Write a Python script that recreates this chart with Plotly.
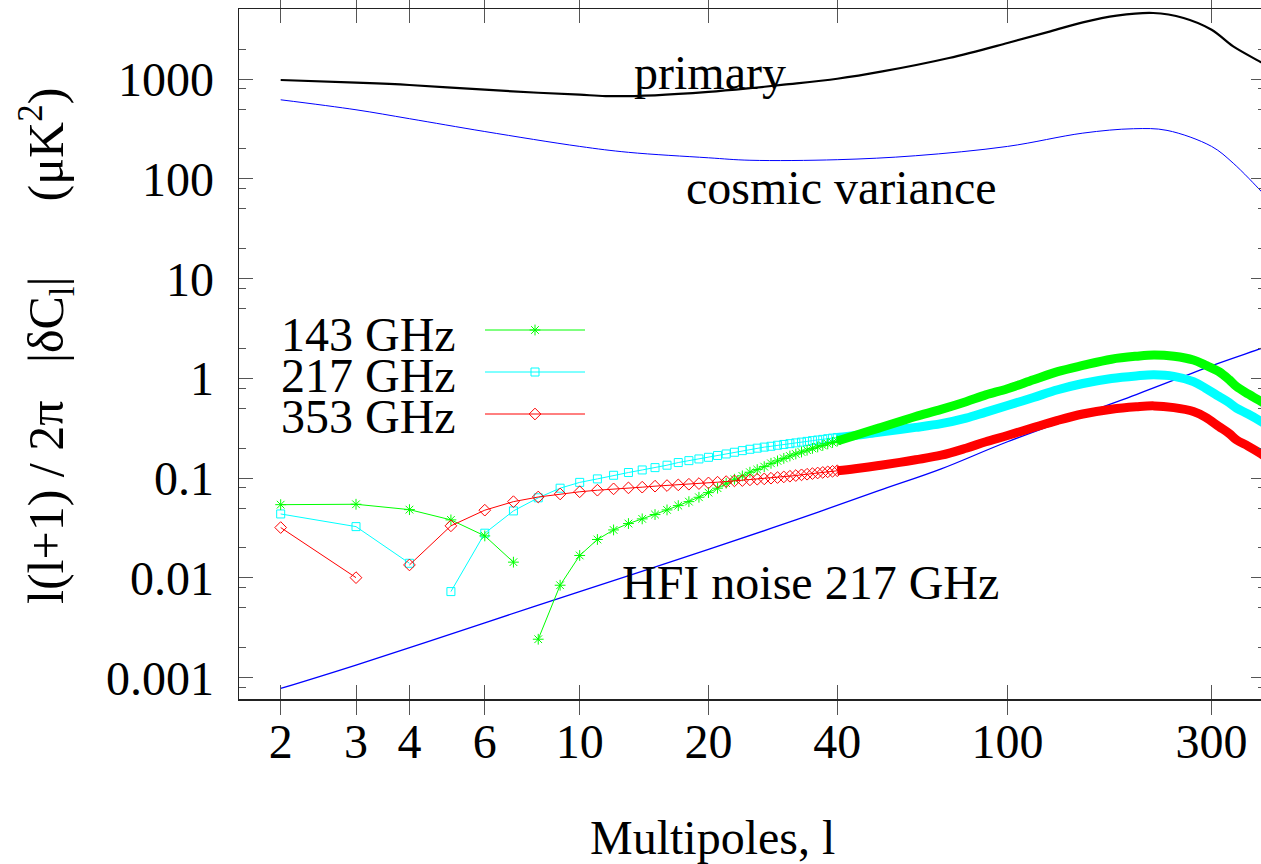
import plotly.graph_objects as go

# ---------------- data ----------------
# primary CMB spectrum  l(l+1)/2pi C_l  [muK^2]
L_PRIMARY = [2, 3, 4, 6, 8, 10, 11.5, 15, 20, 25, 30, 40, 51, 73, 100, 126, 150, 180, 219, 258, 300, 337, 392, 400]
V_PRIMARY = [982, 923, 875, 785, 732, 700, 678, 690, 745, 812, 881, 1011, 1197, 1632, 2306, 3020, 3715, 4335, 4613, 4111, 3133, 2132, 1474, 1398]

# cosmic variance
L_COSMIC = [2, 3, 4, 6, 10, 13, 20, 25, 40, 61, 100, 150, 197, 236, 300, 337, 392, 400]
V_COSMIC = [622, 494, 402, 299, 212, 185, 163, 154, 156, 171, 212, 288, 319, 307, 212, 144, 75, 68]

# HFI noise 217 GHz
L_NOISE = [2, 3, 6, 10, 20, 32, 50, 70, 100, 200, 300, 392, 400]
V_NOISE = [0.00078, 0.00134, 0.00355, 0.0073, 0.0193, 0.0382, 0.075, 0.124, 0.232, 0.69, 1.34, 2.0, 2.07]

# residuals, individual multipoles (None = break in the curve)
L_143 = [2, 3, 4, 5, 6, 7, None] + list(range(8, 41))
V_143 = [0.0543, 0.0548, 0.0484, 0.0382, 0.0264, 0.0144, None,
         0.00243, 0.00845, 0.0168, 0.0243, 0.0303, 0.0351, 0.0391, 0.0432, 0.0481, 0.0531,
         0.0582, 0.0644, 0.0717, 0.0794, 0.0891, 0.0977, 0.1055, 0.1148, 0.122, 0.1306,
         0.141, 0.149, 0.158, 0.167, 0.175, 0.183, 0.191, 0.199, 0.206, 0.213, 0.221, 0.228, 0.236]

L_217 = [2, 3, 4, None] + list(range(5, 41))
V_217 = [0.0438, 0.0327, 0.01403, None,
         0.0073, 0.0281, 0.047, 0.0636, 0.0794, 0.0908, 0.0984, 0.107, 0.114, 0.121,
         0.1277, 0.135, 0.1435, 0.150, 0.156, 0.162, 0.169, 0.175, 0.182, 0.189,
         0.195, 0.200, 0.205, 0.209, 0.214, 0.218, 0.222, 0.226, 0.230, 0.234,
         0.238, 0.2415, 0.245, 0.249, 0.2525, 0.256]

L_353 = [2, 3, None] + list(range(4, 41))
V_353 = [0.032, 0.01007, None,
         0.0135, 0.0333, 0.0478, 0.0582, 0.0648, 0.0695, 0.0731, 0.0758, 0.0782, 0.080,
         0.0813, 0.0832, 0.0844, 0.0857, 0.087, 0.0883, 0.0897, 0.0912, 0.0925, 0.094,
         0.0947, 0.0962, 0.0977, 0.0984, 0.100, 0.1015, 0.103, 0.1047, 0.1063, 0.1081,
         0.1096, 0.1112, 0.1128, 0.1143, 0.1158, 0.1172, 0.1187]

# high-l part where the markers merge into a continuous band
L_BAND = [40, 44, 50, 56, 61, 70, 80, 89, 100, 115, 131, 150, 175, 200, 220, 245, 272, 290, 312, 330, 343, 365, 392, 400]
V_BAND_143 = [0.236, 0.268, 0.318, 0.37, 0.415, 0.49, 0.585, 0.684, 0.79, 0.97, 1.17, 1.35, 1.56, 1.67, 1.72, 1.67, 1.53, 1.36, 1.17, 0.97, 0.83, 0.70, 0.586, 0.555]
V_BAND_217 = [0.256, 0.268, 0.289, 0.308, 0.323, 0.352, 0.40, 0.46, 0.535, 0.645, 0.77, 0.89, 1.0, 1.06, 1.087, 1.05, 0.93, 0.80, 0.66, 0.57, 0.504, 0.44, 0.37, 0.35]
V_BAND_353 = [0.1187, 0.1245, 0.134, 0.144, 0.153, 0.170, 0.20, 0.232, 0.268, 0.322, 0.38, 0.44, 0.492, 0.52, 0.531, 0.51, 0.466, 0.41, 0.33, 0.28, 0.242, 0.21, 0.175, 0.165]

SERIES_NAMES = ["143 GHz", "217 GHz", "353 GHz"]

X_TICKS = [2, 3, 4, 6, 10, 20, 40, 100, 300]
X_TICK_TEXT = ["2", "3", "4", "6", "10", "20", "40", "100", "300"]
Y_TICKS = [0.001, 0.01, 0.1, 1, 10, 100, 1000]
Y_TICK_TEXT = ["0.001", "0.01", "0.1", "1", "10", "100", "1000"]
Y_MINOR = [m * 10.0 ** e for e in range(-4, 4) for m in (2, 5, 8)]

# ---------------- layout constants ----------------
W, H = 1261, 864
PL, PR, PT, PB = 239, 1261, 9, 699
XRANGE = [0.2036, 2.5926]
YRANGE = [-3.2136, 3.704]
FONT = "Liberation Serif, Times New Roman, serif"
FS = 48

GREEN, CYAN, RED, BLUE = "#00ff00", "#00ffff", "#ff0000", "#0000ff"


def px(x):
    return (x - PL) / (PR - PL)


def py(y):
    return (PB - y) / (PB - PT)


fig = go.Figure()

fig.add_trace(go.Scatter(x=L_NOISE, y=V_NOISE, mode="lines", line=dict(color=BLUE, width=1.3, shape="spline"),
                         showlegend=False))
fig.add_trace(go.Scatter(x=L_COSMIC, y=V_COSMIC, mode="lines", line=dict(color=BLUE, width=1, shape="spline"),
                         showlegend=False))

specs = {
    "143 GHz": (L_143, V_143, V_BAND_143, GREEN, "asterisk-open", 9, 1),
    "217 GHz": (L_217, V_217, V_BAND_217, CYAN, "square-open", 8, 2),
    "353 GHz": (L_353, V_353, V_BAND_353, RED, "diamond-open", 9, 3),
}
# drawing order: 217 underneath, then 143, then 353 on top
for name in ["217 GHz", "143 GHz", "353 GHz"]:
    lx, vy, vb, col, sym, ms, rank = specs[name]
    fig.add_trace(go.Scatter(x=L_BAND, y=vb, mode="lines", line=dict(color=col, width=9, shape="spline"),
                             showlegend=False))
    fig.add_trace(go.Scatter(x=lx, y=vy, mode="lines+markers", name=" ", legendrank=rank,
                             line=dict(color=col, width=1),
                             marker=dict(symbol=sym, size=ms, color=col, line=dict(color=col, width=1)),
                             connectgaps=False, showlegend=True))

fig.add_trace(go.Scatter(x=L_PRIMARY, y=V_PRIMARY, mode="lines", line=dict(color="black", width=2.2, shape="spline"),
                         showlegend=False, yaxis="y2"))

axis_common = dict(showgrid=False, zeroline=False, ticks="inside", tickcolor="#555", tickwidth=1,
                   tickfont=dict(family=FONT, size=FS, color="black"))

fig.update_layout(
    width=W, height=H,
    margin=dict(l=PL, r=W - PR, t=PT, b=H - PB, pad=0),
    paper_bgcolor="white", plot_bgcolor="white",
    font=dict(family=FONT, size=FS, color="black"),
    hovermode=False,
    xaxis=dict(type="log", range=XRANGE, tickvals=X_TICKS, ticktext=X_TICK_TEXT, ticklen=14,
               showline=True, linecolor="#222", linewidth=1.5, mirror="allticks",
               ticklabelstandoff=0, **axis_common),
    yaxis=dict(type="log", range=YRANGE, tickvals=Y_TICKS, ticktext=Y_TICK_TEXT, ticklen=14,
               showline=True, linecolor="#222", linewidth=1.5, mirror=False,
               ticklabelstandoff=14,
               minor=dict(tickvals=Y_MINOR, ticklen=7, ticks="inside", tickcolor="#555", showgrid=False),
               **axis_common),
    yaxis2=dict(type="log", range=YRANGE, overlaying="y", side="right", tickvals=Y_TICKS, ticklen=10,
                showticklabels=False, showline=False, showgrid=False, zeroline=False, ticks="inside",
                tickcolor="#555", tickwidth=1,
                minor=dict(tickvals=Y_MINOR, ticklen=3, ticks="inside", tickcolor="#555", showgrid=False)),
    legend=dict(x=px(480), y=py(304), xanchor="left", yanchor="top", bgcolor="rgba(0,0,0,0)",
                font=dict(family=FONT, size=30), itemwidth=100, tracegroupgap=0, traceorder="normal"),
    showlegend=True,
)

ann = []


def text(t, x, y, xanchor="left", angle=0, size=FS):
    ann.append(dict(text=t, x=px(x), y=py(y), xref="paper", yref="paper", xanchor=xanchor, yanchor="middle",
                    showarrow=False, textangle=angle, font=dict(family=FONT, size=size, color="black")))


text("primary", 632, 73)
text("cosmic variance", 684, 187)
text("HFI noise 217 GHz", 620, 582)
for name, base in zip(SERIES_NAMES, [350, 391.5, 432.5]):
    text(name, 458, base - 16, xanchor="right")
text("Multipoles, l", 712, 837, xanchor="center")
text("l(l+1) / 2π\u00a0\u00a0\u00a0|δC<sub>l</sub>|\u00a0\u00a0\u00a0\u00a0\u00a0\u00a0(μK<sup>2</sup>)",
     46, 346, xanchor="center", angle=-90, size=50)
fig.update_layout(annotations=ann)

fig.write_html("out.html", config={"displayModeBar": False, "staticPlot": True},
               post_script="document.body.style.margin='0px';document.documentElement.style.overflow='hidden';")
